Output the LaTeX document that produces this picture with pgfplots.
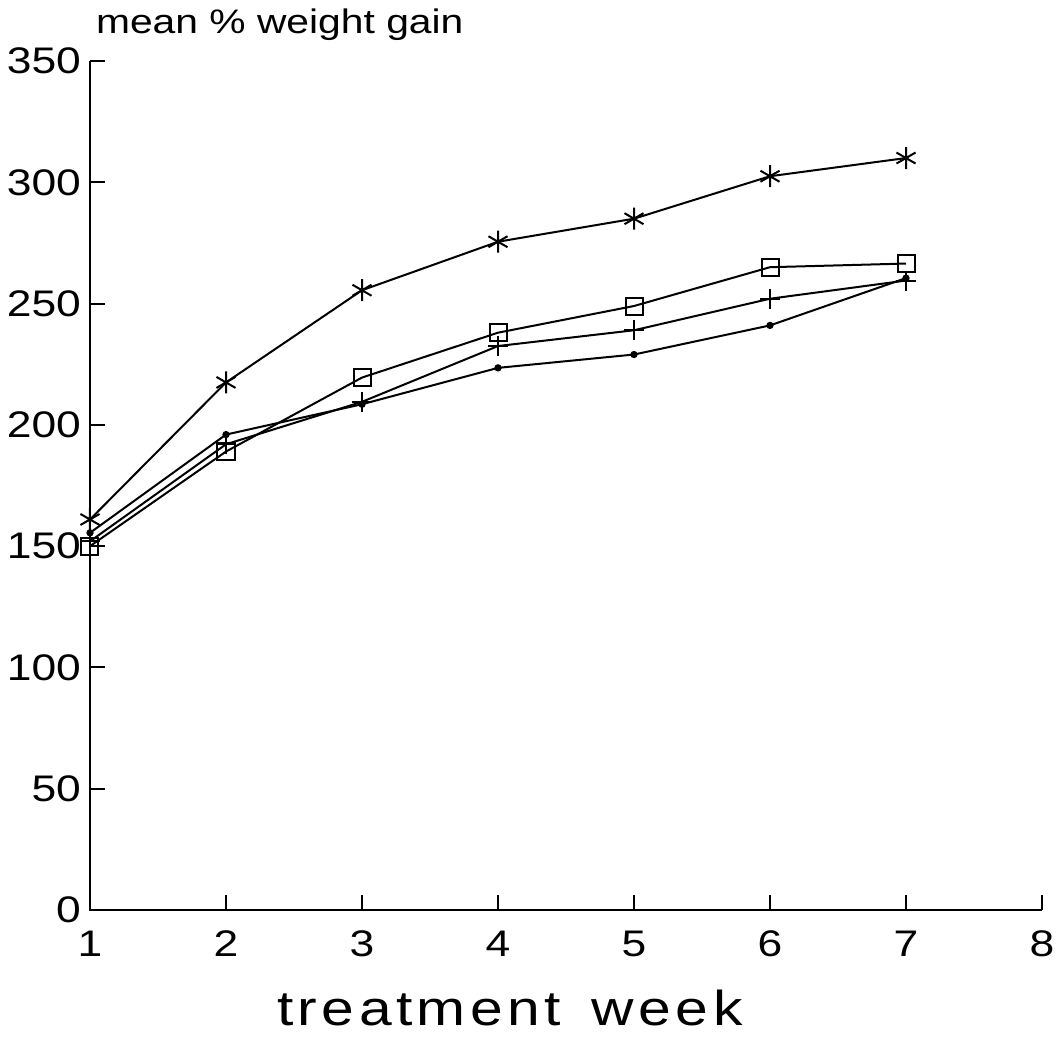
\documentclass[border=0pt]{standalone}
\usepackage{fontspec}
\setmainfont{Liberation Sans}[FakeStretch=1.2]
\newfontfamily\xlabfont{Liberation Sans}[FakeStretch=1.2,LetterSpace=9,WordSpace=1.5]
\usepackage{pgfplots}
\pgfplotsset{compat=1.18}

\begin{document}
\begin{tikzpicture}
\useasboundingbox (-45pt,-65.5pt) rectangle (484pt,455pt);
\begin{axis}[
  scale only axis,
  width=476pt, height=424.5pt,
  xmin=1, xmax=8, ymin=0, ymax=350,
  axis line style={draw=none},
  xtick pos=bottom, ytick pos=left,
  tick align=inside,
  major tick length=7.5pt,
  tick style={line width=1pt, black},
  xtick={1,...,8},
  ytick={0,50,...,350},
  clip=false,
  /pgf/number format/assume math mode=true,
  tick label style={font=\fontsize{18.5}{20}\selectfont},
  yticklabel style={xshift=-1pt},
  xticklabel style={yshift=-7pt},
  xlabel={\xlabfont\fontsize{24.5}{26}\selectfont treatment week},
  every axis x label/.style={at={(axis description cs:0.441,0)}, anchor=base, yshift=-57.5pt},
  ylabel={\fontsize{17}{19}\selectfont mean \% weight gain},
  every axis y label/.style={at={(axis description cs:0,1)}, anchor=base west, xshift=-0.5pt, yshift=14pt},
  every axis plot/.append style={black, line width=1pt},
]
\draw[line width=1.2pt] (rel axis cs:0,1) -- (rel axis cs:0,0) -- (rel axis cs:1,0);
\addplot[mark=asterisk, mark size=5.5pt, mark options={line width=1pt}] coordinates {
  (1,161) (2,217.5) (3,255.5) (4,275.5) (5,285) (6,302.5) (7,310)};
\addplot[mark=square, mark size=4.25pt, mark options={line width=1pt, fill=none}] coordinates {
  (1,150) (2,189) (3,219.5) (4,238) (5,249) (6,265) (7,266.5)};
\addplot[mark=+, mark size=5pt, mark options={line width=1pt}] coordinates {
  (1,152) (2,192) (3,209.5) (4,232.5) (5,239) (6,252) (7,259.5)};
\addplot[mark=*, mark size=1.3pt] coordinates {
  (1,155.5) (2,196) (3,208.5) (4,223.5) (5,229) (6,241) (7,260.5)};
\end{axis}
\end{tikzpicture}
\end{document}
